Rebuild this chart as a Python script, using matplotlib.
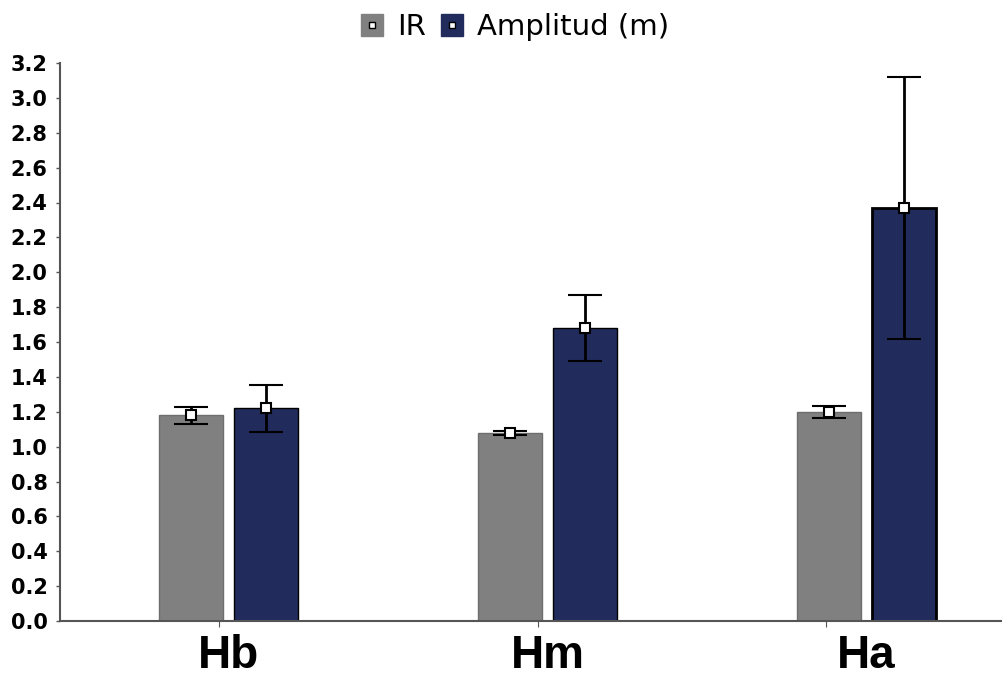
import matplotlib
matplotlib.use("Agg")
import matplotlib.pyplot as plt
import numpy as np

GREY, NAVY = "#808080", "#212c5c"

GROUPS = ["Hb", "Hm", "Ha"]
IR_MEAN = [1.18, 1.08, 1.20]
IR_ERR = [0.05, 0.012, 0.035]
AMP_MEAN = [1.22, 1.68, 2.37]
AMP_ERR = [0.135, 0.19, 0.75]
YTICKS = [0.0, 0.2, 0.4, 0.6, 0.8, 1.0, 1.2, 1.4, 1.6, 1.8, 2.0, 2.2, 2.4, 2.6, 2.8, 3.0, 3.2]

# small x tick marks in the original sit a bit left of the group centres
TICK_SHIFT = [-0.03, -0.03, -0.127]

plt.rcParams["font.family"] = ["Liberation Sans", "DejaVu Sans"]

fig = plt.figure(figsize=(10.02, 6.80), dpi=100)
ax = fig.add_axes([60 / 1002, 1 - 621 / 680, 1 - 60 / 1002, (621 - 63) / 680])

x = np.arange(len(GROUPS))
w, off = 0.2, 0.118
err_kw = dict(fmt="s", ms=7, mfc="white", mec="black", mew=1.5, ecolor="black",
              elinewidth=2, capsize=12, capthick=2, zorder=4)

ax.bar(x - off, IR_MEAN, w, color=GREY, edgecolor="#6e6e6e", linewidth=1, zorder=2)
ax.bar(x + off, AMP_MEAN, w, color=NAVY, edgecolor="black",
       linewidth=[1, 1, 2], zorder=2)
ax.errorbar(x - off, IR_MEAN, yerr=IR_ERR, **err_kw)
ax.errorbar(x + off, AMP_MEAN, yerr=AMP_ERR, **err_kw)

# legend: coloured squares with the small white mean marker inside
h_ir = plt.Line2D([], [], ls="none", marker="s", ms=16, mfc=GREY, mec=GREY)
h_amp = plt.Line2D([], [], ls="none", marker="s", ms=16, mfc=NAVY, mec=NAVY)
h_dot = plt.Line2D([], [], ls="none", marker="s", ms=4.5, mfc="white", mec="black", mew=1)
fig.legend([(h_ir, h_dot), (h_amp, h_dot)], ["IR", "Amplitud (m)"],
           loc="center", bbox_to_anchor=(515 / 1002, 1 - 27 / 680), ncol=2,
           frameon=False, prop={"family": "DejaVu Sans", "size": 21},
           handlelength=0.8, handletextpad=0.45, columnspacing=0.5)

ax.set_xlim(-0.528, 2.425)
ax.set_ylim(0, 3.2)
ax.set_yticks(YTICKS)
ax.set_yticklabels([f"{v:.1f}" for v in YTICKS], fontsize=15, fontweight="bold",
                   family="DejaVu Sans")
ax.set_xticks(x)
ax.set_xticklabels(GROUPS, fontsize=33, fontweight="bold")
ax.set_xticks(x + np.array(TICK_SHIFT), minor=True)
ax.tick_params(axis="y", length=3, width=1, color="#555555", pad=6)
ax.tick_params(axis="x", which="major", length=0, pad=9)
ax.tick_params(axis="x", which="minor", length=4, width=0.8, color="#555555")
for s in ["top", "right"]:
    ax.spines[s].set_visible(False)
for s in ["left", "bottom"]:
    ax.spines[s].set_color("#555555")
    ax.spines[s].set_linewidth(1.5)

fig.savefig("out.png", dpi=100)
